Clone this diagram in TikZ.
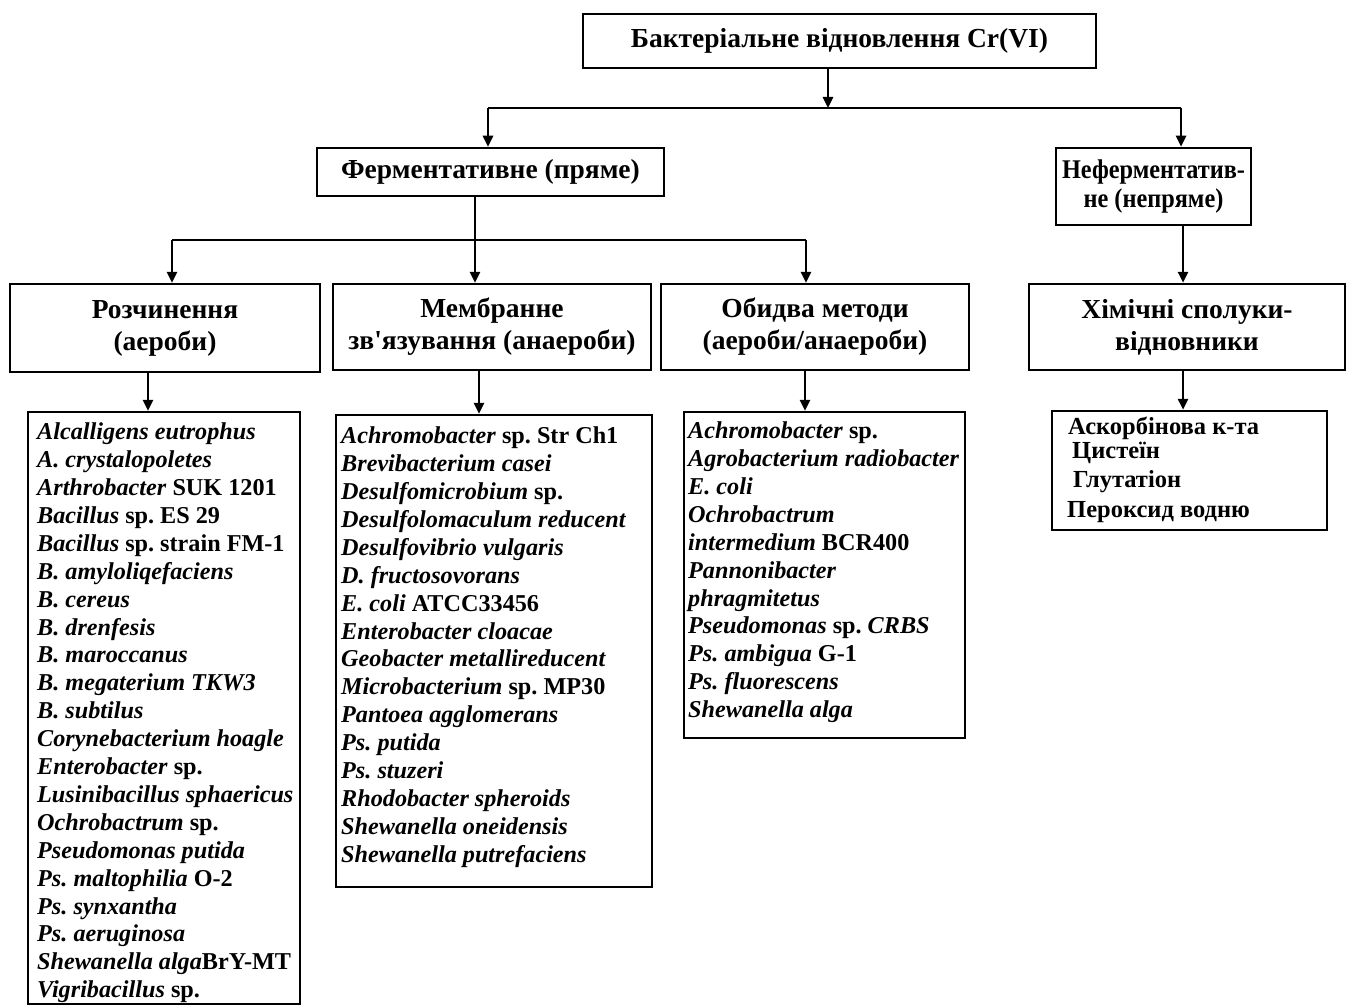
\documentclass[tikz,border=0pt]{standalone}
\usepackage{fontspec}
\setmainfont{Liberation Serif}
\usetikzlibrary{arrows.meta}
\frenchspacing
\begin{document}
\begin{tikzpicture}[x=1pt,y=-1pt,
  box/.style={draw, line width=2.5pt, inner sep=0pt, align=center, font=\fontsize{27.5}{32}\selectfont\bfseries},
  listbox/.style={draw, line width=2.5pt, inner sep=0pt},
  listtext/.style={inner sep=0pt, anchor=north west, align=left, font=\fontsize{24.2}{27.9}\selectfont\bfseries},
  chemtext/.style={inner sep=0pt, anchor=base west, font=\fontsize{24.5}{27}\selectfont\bfseries},
  arr/.style={line width=2.5pt, -{Triangle[length=11pt,width=10pt]}},
  ln/.style={line width=2.5pt}]
\useasboundingbox (0,0) rectangle (1346,1006);
% boxes
\node[box, minimum width=513pt, minimum height=54pt] (top) at (839.5,41) {Бактеріальне відновлення Cr(VI)};
\node[box, minimum width=347pt, minimum height=48pt] (ferm) at (490.5,172) {Ферментативне (пряме)};
\node[box, minimum width=195pt, minimum height=77pt, font=\fontsize{27}{29}\selectfont\bfseries\addfontfeatures{FakeStretch=0.9}] (neferm) at (1153.5,186.5) {Неферментатив-\\не (непряме)};
\node[box, minimum width=310pt, minimum height=88pt] (rozch) at (165,328) {Розчинення\\(аероби)};
\node[box, minimum width=318pt, minimum height=86pt] (memb) at (492,327) {Мембранне\\зв\textquotesingle язування (анаероби)};
\node[box, minimum width=308pt, minimum height=86pt] (obydva) at (815,327) {Обидва методи\\(аероби/анаероби)};
\node[box, minimum width=316pt, minimum height=86pt] (khim) at (1187,327) {Хімічні сполуки-\\відновники};
% list boxes
\node[listbox, minimum width=272pt, minimum height=592pt] (list1) at (164,708) {};
\node[listbox, minimum width=316pt, minimum height=472pt] (list2) at (494,651) {};
\node[listbox, minimum width=281pt, minimum height=326pt] (list3) at (824.5,575) {};
\node[listbox, minimum width=275pt, minimum height=119pt] (list4) at (1189.5,470.5) {};
% list texts
\node[listtext] (t1) at (37,422.7) {\textit{Alcalligens eutrophus}\\
\textit{A. crystalopoletes}\\
\textit{Arthrobacter} SUK 1201\\
\textit{Bacillus} sp. ES 29\\
\textit{Bacillus} sp. strain FM-1\\
\textit{B. amyloliqefaciens}\\
\textit{B. cereus}\\
\textit{B. drenfesis}\\
\textit{B. maroccanus}\\
\textit{B. megaterium TKW3}\\
\textit{B. subtilus}\\
\textit{Corynebacterium hoagle}\\
\textit{Enterobacter} sp.\\
\textit{Lusinibacillus sphaericus}\\
\textit{Ochrobactrum} sp.\\
\textit{Pseudomonas putida}\\
\textit{Ps. maltophilia} O-2\\
\textit{Ps. synxantha}\\
\textit{Ps. aeruginosa}\\
\textit{Shewanella alga}BrY-MT\\
\textit{Vigribacillus} sp.};
\node[listtext] (t2) at (341,426.7) {\textit{Achromobacter} sp. Str Ch1\\
\textit{Brevibacterium casei}\\
\textit{Desulfomicrobium} sp.\\
\textit{Desulfolomaculum reducent}\\
\textit{Desulfovibrio vulgaris}\\
\textit{D. fructosovorans}\\
\textit{E. coli} ATCC33456\\
\textit{Enterobacter cloacae}\\
\textit{Geobacter metallireducent}\\
\textit{Microbacterium} sp. MP30\\
\textit{Pantoea agglomerans}\\
\textit{Ps. putida}\\
\textit{Ps. stuzeri}\\
\textit{Rhodobacter spheroids}\\
\textit{Shewanella oneidensis}\\
\textit{Shewanella putrefaciens}};
\node[listtext] (t3) at (688,421.7) {\textit{Achromobacter} sp.\\
\textit{Agrobacterium radiobacter}\\
\textit{E. coli}\\
\textit{Ochrobactrum}\\
\textit{intermedium} BCR400\\
\textit{Pannonibacter}\\
\textit{phragmitetus}\\
\textit{Pseudomonas} sp. \textit{CRBS}\\
\textit{Ps. ambigua} G-1\\
\textit{Ps. fluorescens}\\
\textit{Shewanella alga}};
\node[chemtext] (c1) at (1068,434) {Аскорбінова к-та};
\node[chemtext] (c2) at (1072,458) {Цистеїн};
\node[chemtext] (c3) at (1073,487) {Глутатіон};
\node[chemtext] (c4) at (1067,517) {Пероксид водню};
% junction coordinates
\coordinate (j0) at (828,108);
\coordinate (jL) at (488,108);
\coordinate (jR) at (1181,108);
\coordinate (k0) at (475,240);
\coordinate (kL) at (172,240);
\coordinate (kR) at (806,240);
\coordinate (n0) at (1183,0);
\coordinate (a1) at (148,0);
\coordinate (a2) at (479,0);
\coordinate (a3) at (805,0);
\coordinate (a4) at (1183,0);
% connectors
\draw[arr] (top.south -| j0) -- (j0);
\draw[ln] (jL) -- (jR);
\draw[arr] (jL) -- (jL |- ferm.north);
\draw[arr] (jR) -- (jR |- neferm.north);
\draw[ln] (ferm.south -| k0) -- (k0);
\draw[ln] (kL) -- (kR);
\draw[arr] (kL) -- (kL |- rozch.north);
\draw[arr] (k0) -- (k0 |- memb.north);
\draw[arr] (kR) -- (kR |- obydva.north);
\draw[arr] (neferm.south -| n0) -- (khim.north -| n0);
\draw[arr] (rozch.south -| a1) -- (list1.north -| a1);
\draw[arr] (memb.south -| a2) -- (list2.north -| a2);
\draw[arr] (obydva.south -| a3) -- (list3.north -| a3);
\draw[arr] (khim.south -| a4) -- (list4.north -| a4);
\end{tikzpicture}
\end{document}
